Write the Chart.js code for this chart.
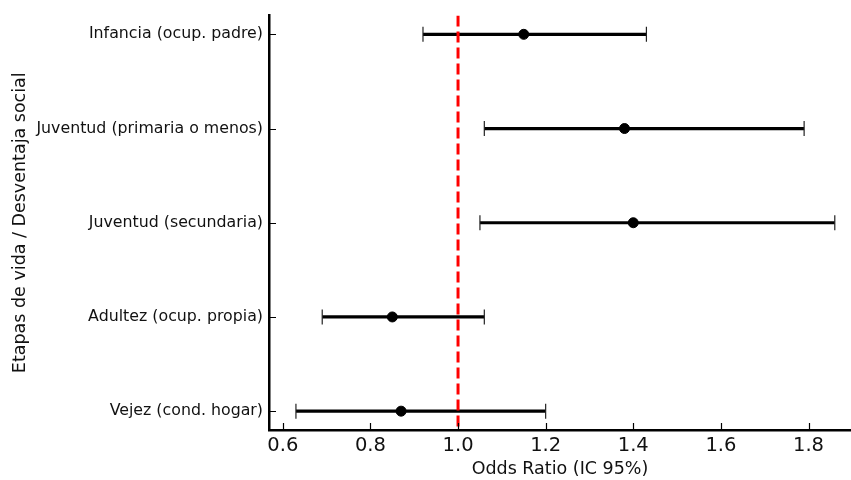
<!DOCTYPE html>
<html lang="es">
<head>
<meta charset="utf-8">
<title>Odds Ratio por etapa de vida</title>
<script src="https://cdn.jsdelivr.net/npm/chart.js@4.4.0/dist/chart.umd.min.js"></script>
<style>
	html, body { margin: 0; padding: 0; background: #fff; }
	#wrap { width: 851px; height: 480px; }
</style>
</head>
<body>
<div id="wrap"><canvas id="chart" width="851" height="480"></canvas></div>
<script>
// --- Données ---
const categories = [
	"Infancia (ocup. padre)",
	"Juventud (primaria o menos)",
	"Juventud (secundaria)",
	"Adultez (ocup. propia)",
	"Vejez (cond. hogar)",
];
const oddsRatio = [1.15, 1.38, 1.4, 0.85, 0.87];
const ciLow = [0.92, 1.06, 1.05, 0.69, 0.63];
const ciHigh = [1.43, 1.79, 1.86, 1.06, 1.2];
const xTicks = [0.6, 0.8, 1.0, 1.2, 1.4, 1.6, 1.8];
const referenceOR = 1.0;

const FONT = "'DejaVu Sans', 'Liberation Sans', sans-serif";
const TEXT = "#111";

// --- Helpers ---
function ciDataset(i) {
	return {
		type: "line",
		data: [
			{ x: ciLow[i], y: i },
			{ x: ciHigh[i], y: i },
		],
		borderColor: "#000",
		borderWidth: 3.2,
		pointStyle: "line",
		pointRotation: 90,
		pointRadius: 7.5,
		pointBorderWidth: 1.2,
		pointBorderColor: "#222",
		order: 2,
	};
}

// Marques de graduation vers l'intérieur (style matplotlib)
const inwardTicks = {
	id: "inwardTicks",
	afterDraw(chart) {
		const { ctx, chartArea, scales } = chart;
		ctx.save();
		ctx.strokeStyle = "#000";
		ctx.lineWidth = 1.2;
		ctx.beginPath();
		xTicks.forEach((v) => {
			const px = Math.round(scales.x.getPixelForValue(v)) + 0.5;
			ctx.moveTo(px, chartArea.bottom);
			ctx.lineTo(px, chartArea.bottom - 7);
		});
		categories.forEach((c, i) => {
			const py = Math.round(scales.y.getPixelForValue(i)) + 0.5;
			ctx.moveTo(chartArea.left, py);
			ctx.lineTo(chartArea.left + 7, py);
		});
		ctx.stroke();
		ctx.restore();
	},
};

// --- Graphique ---
const datasets = [
	{
		type: "line",
		label: "OR = 1",
		data: [
			{ x: referenceOR, y: -0.2 },
			{ x: referenceOR, y: categories.length - 0.8 },
		],
		borderColor: "#f00",
		borderWidth: 3,
		borderDash: [11, 5],
		pointRadius: 0,
		order: 0,
	},
	{
		type: "scatter",
		label: "OR",
		data: oddsRatio.map((v, i) => ({ x: v, y: i })),
		backgroundColor: "#000",
		borderColor: "#000",
		pointRadius: 5,
		order: 1,
	},
].concat(categories.map((c, i) => ciDataset(i)));

new Chart(document.getElementById("chart").getContext("2d"), {
	type: "scatter",
	data: { datasets },
	options: {
		responsive: false,
		animation: false,
		layout: {
			autoPadding: false,
			padding: { top: 13, right: 0, bottom: 0, left: 0 },
		},
		plugins: {
			legend: { display: false },
			tooltip: { enabled: false },
		},
		scales: {
			x: {
				type: "linear",
				min: 0.5685,
				max: 1.897,
				afterBuildTicks: (s) => {
					s.ticks = xTicks.map((v) => ({ value: v }));
				},
				afterFit: (s) => {
					s.height = 50;
					s.paddingLeft = 0;
					s.paddingRight = 0;
				},
				grid: { display: false, drawTicks: false },
				border: { display: true, color: "#000", width: 2.5 },
				ticks: {
					padding: 4,
					color: TEXT,
					font: { family: FONT, size: 19.5 },
					callback: (v) => Number(v).toFixed(1),
				},
				title: {
					display: true,
					text: "Odds Ratio (IC 95%)",
					color: TEXT,
					font: { family: FONT, size: 17.5 },
					padding: { top: 0, bottom: 0 },
				},
			},
			y: {
				type: "linear",
				reverse: true,
				min: -0.2,
				max: categories.length - 0.8,
				afterBuildTicks: (s) => {
					s.ticks = categories.map((c, i) => ({ value: i }));
				},
				afterFit: (s) => {
					s.width = 269;
				},
				grid: { display: false, drawTicks: false },
				border: { display: true, color: "#000", width: 2.5 },
				ticks: {
					padding: 6,
					color: TEXT,
					font: { family: FONT, size: 15.8 },
					callback: (v) => categories[v],
				},
				title: {
					display: true,
					text: "Etapas de vida / Desventaja social",
					color: TEXT,
					font: { family: FONT, size: 17.5 },
					padding: { top: 9.5, bottom: 0 },
				},
			},
		},
	},
	plugins: [inwardTicks],
});
</script>
</body>
</html>
